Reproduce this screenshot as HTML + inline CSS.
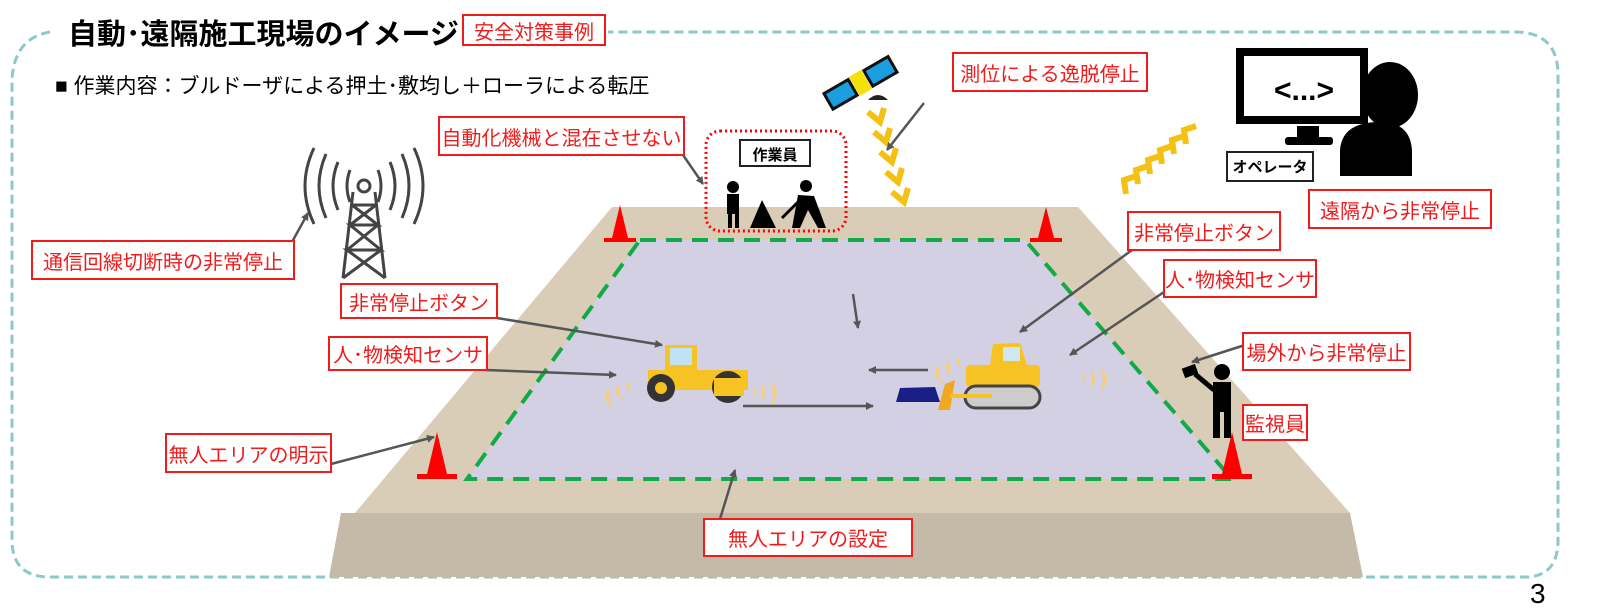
<!DOCTYPE html>
<html><head><meta charset="utf-8"><style>
html,body{margin:0;padding:0;background:#fff;}
body{width:1600px;height:609px;overflow:hidden;position:relative;font-family:"Liberation Sans","Noto Sans CJK JP",sans-serif;}
.lb{position:absolute;border:2px solid #f01c1c;background:#fff;color:#f01c1c;font-size:20px;display:flex;align-items:center;justify-content:center;box-sizing:border-box;white-space:nowrap;}
svg{position:absolute;left:0;top:0;}
</style></head><body>
<svg width="1600" height="609" viewBox="0 0 1600 609">
<defs>
<marker id="ar" markerWidth="8" markerHeight="8" refX="7" refY="4" orient="auto" markerUnits="userSpaceOnUse"><path d="M0,0 L8,4 L0,8 z" fill="#555"/></marker>
</defs>
<path d="M50,32 Q14,38 12,80 L12,540 Q12,577 50,577 L1525,577 Q1558,577 1558,540 L1558,75 Q1558,32 1515,32 L608,32" fill="none" stroke="#8cc8cc" stroke-width="3" stroke-dasharray="9,5"/>
<polygon points="612,207 1078,207 1350,513 355,513" fill="#d9cdb8"/>
<polygon points="341,513 1350,513 1363,577 329,577" fill="#c5b9a7"/>
<polygon points="640,240 1025,240 1232,479 467,479" fill="#d4d0e3"/>
<polygon points="640,240 1025,240 1232,479 467,479" fill="none" stroke="#12aa48" stroke-width="4" stroke-dasharray="16,10"/>
<g fill="#f00">
<polygon points="620,205 612,238 628,238"/><rect x="604" y="238" width="32" height="4"/>
<polygon points="1046,207 1038,238 1054,238"/><rect x="1030" y="238" width="32" height="4"/>
<polygon points="437,432 427,474 447,474"/><rect x="417" y="474" width="40" height="5"/>
<polygon points="1232,432 1222,474 1242,474"/><rect x="1212" y="474" width="40" height="5"/>
</g>
<rect x="706" y="131" width="140" height="100" rx="14" fill="none" stroke="#f00" stroke-width="3" stroke-dasharray="2,3"/>
<rect x="740" y="140" width="70" height="26" fill="#fff" stroke="#222" stroke-width="2"/>
<text x="775" y="160" text-anchor="middle" font-size="15" font-weight="bold">作業員</text>
<circle cx="733" cy="187" r="6"/><rect x="727" y="194" width="12" height="20"/><rect x="728" y="212" width="4" height="16"/><rect x="735" y="212" width="4" height="16"/>
<polygon points="762,200 750,228 776,228"/>
<circle cx="806" cy="186" r="6"/><polygon points="798,195 814,196 826,228 818,228 808,210 800,228 792,228"/>
<line x1="800" y1="200" x2="782" y2="218" stroke="#000" stroke-width="3"/>
<g stroke="#444" stroke-width="3" fill="none">
<circle cx="364" cy="186" r="6"/>
<path d="M353,192 L343,278 M375,192 L385,278 M352,205 L376,205 M350,225 L378,225 M347,250 L381,250 M352,205 L378,225 L350,225 L381,250 L347,250 L385,278 M376,205 L350,225 M378,225 L347,250 M381,250 L343,278"/>
<path d="M350,170 Q344,186 350,202 M378,170 Q384,186 378,202 M338,162 Q328,186 338,210 M390,162 Q400,186 390,210 M326,154 Q312,186 326,218 M402,154 Q416,186 402,218 M314,148 Q296,186 314,224 M414,148 Q432,186 414,224"/>
</g>
<g transform="rotate(-30 860 82)">
<rect x="823" y="74" width="28" height="18" fill="#1a9ee0" stroke="#111" stroke-width="3"/>
<rect x="853" y="72" width="14" height="22" fill="#f5e00a"/>
<rect x="869" y="74" width="28" height="18" fill="#1a9ee0" stroke="#111" stroke-width="3"/>
</g>
<path d="M868,100 Q878,90 888,100 z" fill="#222"/>
<g fill="none" stroke="#f5c010" stroke-width="6">
<path d="M868,112 l12,10 l4,-14 M874,132 l12,10 l4,-14 M880,152 l12,10 l4,-14 M886,172 l12,10 l4,-14 M892,192 l12,10 l4,-14"/>
<path d="M1196,126 l-12,4 l2,14 M1184,136 l-12,4 l2,14 M1172,146 l-12,4 l2,14 M1160,156 l-12,4 l2,14 M1148,166 l-12,4 l2,14 M1136,176 l-12,4 l2,14"/>
</g>
<rect x="1240" y="52" width="124" height="68" fill="none" stroke="#000" stroke-width="8"/>
<text x="1304" y="100" text-anchor="middle" font-size="30" font-weight="bold">&lt;...&gt;</text>
<rect x="1297" y="126" width="22" height="12"/><rect x="1285" y="137" width="48" height="8" rx="3"/>
<ellipse cx="1390" cy="95" rx="28" ry="33"/>
<path d="M1340,176 L1340,150 Q1342,122 1380,122 Q1410,122 1412,150 L1412,176 z"/>
<rect x="1227" y="152" width="86" height="29" fill="#fff" stroke="#222" stroke-width="2"/>
<text x="1270" y="172" text-anchor="middle" font-size="15" font-weight="bold">オペレータ</text>
<circle cx="1222" cy="372" r="8"/><rect x="1213" y="382" width="18" height="30"/><rect x="1213" y="410" width="7" height="28"/><rect x="1224" y="410" width="7" height="28"/>
<rect x="1183" y="366" width="14" height="10" transform="rotate(-20 1190 371)"/><line x1="1195" y1="374" x2="1214" y2="390" stroke="#000" stroke-width="5"/>
<rect x="665" y="345" width="32" height="30" fill="#f7c324"/><rect x="670" y="348" width="22" height="17" fill="#bfe2f5"/>
<rect x="648" y="370" width="100" height="20" fill="#f7c324"/>
<circle cx="661" cy="388" r="14" fill="#333"/><circle cx="661" cy="388" r="6" fill="#f7c324"/>
<circle cx="728" cy="387" r="16" fill="#333"/><rect x="714" y="378" width="30" height="18" fill="#f7c324"/>
<polygon points="993,344 1020,343 1027,365 990,365" fill="#f7c324"/><rect x="1003" y="347" width="17" height="14" fill="#cfe7f2"/>
<rect x="966" y="365" width="74" height="22" rx="4" fill="#f7c324"/>
<rect x="965" y="386" width="75" height="22" rx="11" fill="#ccc" stroke="#444" stroke-width="3"/>
<polygon points="945,384 955,380 950,410 938,410" fill="#f0a820"/><rect x="950" y="394" width="42" height="4" fill="#f7c324"/>
<polygon points="900,388 935,387 940,402 896,402" fill="#1a1f88"/>
<g fill="#f9cc6c" opacity="0.85">
<path d="M610,388 q-12,10 4,20 q-8,-10 -4,-20z M620,384 q-10,8 3,16 q-6,-8 -3,-16z M630,380 q-8,6 2,12 q-4,-6 -2,-12z"/>
<path d="M770,382 q14,10 0,24 q6,-12 0,-24z M760,384 q10,8 0,18 q4,-9 0,-18z M752,386 q6,5 0,12 q2,-6 0,-12z"/>
<path d="M940,364 q-12,10 4,20 q-8,-10 -4,-20z M950,360 q-10,8 3,16 q-6,-8 -3,-16z M960,356 q-8,6 2,12 q-4,-6 -2,-12z"/>
<path d="M1100,368 q14,10 0,24 q6,-12 0,-24z M1090,370 q10,8 0,18 q4,-9 0,-18z M1082,372 q6,5 0,12 q2,-6 0,-12z"/>
</g>
<g stroke="#555" stroke-width="2.5" fill="none" marker-end="url(#ar)">
<line x1="924" y1="103" x2="887" y2="150"/>
<line x1="683" y1="155" x2="703" y2="184"/>
<line x1="292" y1="242" x2="308" y2="213"/>
<line x1="497" y1="318" x2="662" y2="345"/>
<line x1="486" y1="370" x2="616" y2="375"/>
<line x1="331" y1="464" x2="434" y2="437"/>
<line x1="720" y1="519" x2="735" y2="470"/>
<line x1="1132" y1="250" x2="1020" y2="332"/>
<line x1="1167" y1="290" x2="1070" y2="355"/>
<line x1="1245" y1="345" x2="1192" y2="362"/>
<line x1="853" y1="294" x2="858" y2="328"/>
<line x1="928" y1="370" x2="869" y2="370"/>
<line x1="743" y1="406" x2="873" y2="406"/>
</g>
<text x="1530" y="603" font-size="28">3</text>
</svg>
<div style="position:absolute;left:68px;top:11px;font-size:29px;font-weight:bold;">自動･遠隔施工現場のイメージ</div>
<div class="lb" style="left:462px;top:14px;width:144px;height:32px;">安全対策事例</div>
<div style="position:absolute;left:55px;top:70px;font-size:21px;">■ 作業内容：ブルドーザによる押土･敷均し＋ローラによる転圧</div>
<div class="lb" style="left:438px;top:116px;width:247px;height:40px;">自動化機械と混在させない</div>
<div class="lb" style="left:31px;top:240px;width:264px;height:40px;">通信回線切断時の非常停止</div>
<div class="lb" style="left:340px;top:283px;width:158px;height:36px;">非常停止ボタン</div>
<div class="lb" style="left:328px;top:336px;width:160px;height:35px;">人･物検知センサ</div>
<div class="lb" style="left:165px;top:433px;width:167px;height:40px;">無人エリアの明示</div>
<div class="lb" style="left:703px;top:518px;width:210px;height:39px;">無人エリアの設定</div>
<div class="lb" style="left:952px;top:52px;width:196px;height:40px;">測位による逸脱停止</div>
<div class="lb" style="left:1308px;top:189px;width:184px;height:40px;">遠隔から非常停止</div>
<div class="lb" style="left:1127px;top:211px;width:154px;height:40px;">非常停止ボタン</div>
<div class="lb" style="left:1163px;top:259px;width:154px;height:39px;">人･物検知センサ</div>
<div class="lb" style="left:1242px;top:332px;width:169px;height:39px;">場外から非常停止</div>
<div class="lb" style="left:1242px;top:404px;width:66px;height:37px;">監視員</div>
</body></html>
